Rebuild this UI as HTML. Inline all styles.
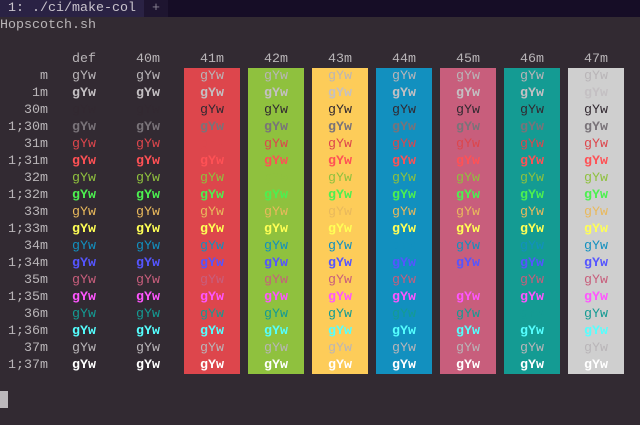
<!DOCTYPE html>
<html><head><meta charset="utf-8">
<style>
html,body{margin:0;padding:0;width:640px;height:425px;overflow:hidden;background:#322a32;}
body{position:relative;font-family:"Liberation Mono","DejaVu Sans Mono",monospace;font-size:13.33px;}
.t{position:absolute;white-space:pre;line-height:17px;height:17px;}
.blk{position:absolute;top:68px;height:306px;width:56px;}
</style></head><body>
<div style="position:absolute;left:0;top:0;width:640px;height:17px;background:#160d26;"></div>
<div class="t" style="left:0;top:0;width:144px;background:#2a2244;color:#c9c4cc;">&nbsp;1: ./ci/make-col</div>
<div class="t" style="left:144px;top:0;width:24px;background:#1e1530;color:#8a8494;text-align:center;">+</div>
<div class="t" style="left:0;top:17px;color:#b9b5b8;">Hopscotch.sh</div>
<div style="position:absolute;left:0;top:391px;width:8px;height:17px;background:#bcb8bc;"></div>
<div id="grid"></div>
<script>
const rowLabels=["m","1m","30m","1;30m","31m","1;31m","32m","1;32m","33m","1;33m","34m","1;34m","35m","1;35m","36m","1;36m","37m","1;37m"];
const rowColors=["#b9b5b8","#c4c0c3","#322931","#797379","#dd464c","#ff5155","#8fc13e","#4cf050","#e9b95c","#ffff55","#1290bf","#5555ff","#c85e7c","#ff55ff","#149b93","#55ffff","#b9b5b8","#ffffff"];
const rowBold=[false,true,false,true,false,true,false,true,false,true,false,true,false,true,false,true,false,true];
const colLabels=["def","40m","41m","42m","43m","44m","45m","46m","47m"];
const colBg=[null,null,"#dd464c","#8fc13e","#fdcc59","#1290bf","#c85e7c","#149b93","#cfcfcf"];
const g=document.getElementById('grid');
const rowY=i=>68+17*i;
const colX=j=>64*j+72;
colLabels.forEach((c,j)=>{
  if(colBg[j]){
    const b=document.createElement('div');b.className='blk';
    b.style.left=(colX(j)-16)+'px';b.style.background=colBg[j];
    
    
    g.appendChild(b);
  }
  const h=document.createElement('div');h.className='t';
  h.style.left=(colX(j)-8)+'px';h.style.top='51px';h.style.width='40px';h.style.textAlign='center';
  h.style.color='#b9b5b8';h.textContent=c;
  
  
  g.appendChild(h);
});
rowLabels.forEach((r,i)=>{
  const l=document.createElement('div');l.className='t';
  l.style.left='0px';l.style.width='48px';l.style.textAlign='right';l.style.top=rowY(i)+'px';
  l.style.color='#b9b5b8';l.textContent=r;
  
  
  g.appendChild(l);
  colLabels.forEach((c,j)=>{
    const s=document.createElement('div');s.className='t';
    s.style.left=colX(j)+'px';s.style.top=rowY(i)+'px';
    s.style.color=rowColors[i];
    if(rowBold[i])s.style.fontWeight='bold';
    s.textContent='gYw';
    
    
    g.appendChild(s);
  });
});
</script>
</body></html>
